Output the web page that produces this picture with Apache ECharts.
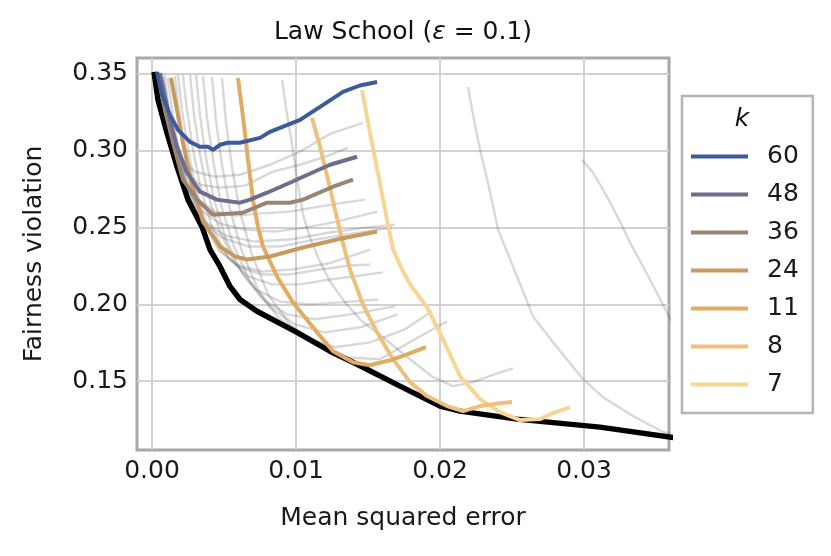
<!DOCTYPE html>
<html>
<head>
<meta charset="utf-8">
<title>Law School</title>
<script src="https://cdn.jsdelivr.net/npm/echarts@6/dist/echarts.min.js"></script>
<style>
  html, body { margin: 0; padding: 0; background: #fff; }
  #chart { width: 831px; height: 556px; }
</style>
</head>
<body>
<div id="chart"></div>
<script>
// ---- data (x = mean squared error, y = fairness violation) ----
const kNames = ['60', '48', '36', '24', '11', '8', '7'];
const kColors = ['#3d5b9a', '#6b6e8c', '#9b8473', '#c99a5f', '#e2ab62', '#edc17d', '#f6d692'];

const k60 = [[0.00035,0.3513],[0.00069,0.3364],[0.00125,0.3234],[0.00181,0.3136],[0.00264,0.3058],[0.00333,0.3026],[0.00389,0.3026],[0.00424,0.3006],[0.00472,0.3039],[0.00528,0.3052],[0.00611,0.3052],[0.0075,0.3084],[0.00819,0.3123],[0.01028,0.3201],[0.01167,0.3286],[0.01326,0.3383],[0.01444,0.3425],[0.01563,0.3448]];
const k48 = [[0.00056,0.3506],[0.00125,0.3201],[0.00174,0.3026],[0.00243,0.2857],[0.00333,0.2734],[0.00451,0.2682],[0.00611,0.2662],[0.00681,0.2682],[0.00799,0.2727],[0.00958,0.2792],[0.01049,0.2831],[0.01236,0.2909],[0.01424,0.2961]];
const k36 = [[0.00042,0.3506],[0.0009,0.3266],[0.00146,0.3052],[0.00215,0.2812],[0.00313,0.2682],[0.00424,0.2584],[0.00632,0.2597],[0.00799,0.2662],[0.00958,0.2662],[0.01049,0.2682],[0.01257,0.2766],[0.01396,0.2812]];
const k24 = [[0.00132,0.3474],[0.00174,0.3266],[0.00215,0.3052],[0.00278,0.2779],[0.00354,0.2539],[0.00472,0.2377],[0.00576,0.2312],[0.0066,0.2292],[0.00819,0.2312],[0.01049,0.237],[0.01285,0.2422],[0.01563,0.2474]];
const k11 = [[0.00597,0.3474],[0.00632,0.3221],[0.00667,0.2942],[0.00701,0.2682],[0.00736,0.2506],[0.00771,0.2377],[0.00868,0.2182],[0.00979,0.2013],[0.01146,0.1818],[0.01257,0.1695],[0.01396,0.1623],[0.01514,0.1604],[0.01653,0.1636],[0.01771,0.1675],[0.01903,0.1721]];
const k8 = [[0.01111,0.3214],[0.01167,0.3026],[0.01222,0.2812],[0.01271,0.2617],[0.01319,0.2422],[0.01375,0.2227],[0.01465,0.2],[0.01563,0.1818],[0.01674,0.1643],[0.01792,0.1494],[0.0191,0.1403],[0.02049,0.1338],[0.0216,0.1305],[0.02278,0.1338],[0.02417,0.1357],[0.025,0.1364]];
const k7 = [[0.01458,0.3396],[0.01514,0.3117],[0.01569,0.2857],[0.01618,0.2617],[0.01674,0.2357],[0.01736,0.2227],[0.01792,0.213],[0.0191,0.1981],[0.02021,0.1773],[0.02139,0.1532],[0.02278,0.1383],[0.02417,0.1299],[0.02556,0.1247],[0.02694,0.1253],[0.02785,0.1292],[0.02903,0.1331]];
const kSeries = [k60, k48, k36, k24, k11, k8, k7];

const frontier = [[0.00014,0.3513],[0.00042,0.3331],[0.00104,0.3117],[0.00174,0.2896],[0.0025,0.2682],[0.00347,0.2506],[0.00403,0.2357],[0.00472,0.2247],[0.00542,0.2117],[0.00611,0.2032],[0.00729,0.1955],[0.01007,0.1818],[0.01236,0.1695],[0.01424,0.161],[0.01722,0.1468],[0.02,0.1338],[0.02139,0.1305],[0.02535,0.1253],[0.03111,0.1201],[0.0362,0.1133]];

// other k values, drawn faint
const greyCurves = [
  [[0.00042,0.3506],[0.00076,0.3299],[0.00125,0.3104],[0.00194,0.2955],[0.00299,0.2864],[0.00438,0.2831],[0.00611,0.2844],[0.00819,0.2909],[0.01028,0.2994],[0.01236,0.311],[0.01465,0.3182]],
  [[0.00042,0.3506],[0.0009,0.3253],[0.00146,0.3039],[0.00229,0.2864],[0.00333,0.2779],[0.00472,0.276],[0.00646,0.2773],[0.0084,0.2864],[0.01028,0.2909],[0.01201,0.2961],[0.01361,0.3019]],
  [[0.0009,0.3494],[0.00118,0.3253],[0.00167,0.3039],[0.00236,0.2825],[0.00326,0.2682],[0.00438,0.2604],[0.00576,0.2578],[0.0075,0.2591],[0.00958,0.2604],[0.01201,0.2643],[0.01479,0.2682]],
  [[0.00056,0.3506],[0.00097,0.3234],[0.0016,0.3006],[0.00236,0.2779],[0.00333,0.2617],[0.00472,0.2526],[0.00646,0.2487],[0.00854,0.2474],[0.01063,0.25],[0.01285,0.2539],[0.01563,0.2604]],
  [[0.00076,0.3487],[0.00125,0.3201],[0.00181,0.2942],[0.00264,0.2714],[0.00368,0.2539],[0.00507,0.2448],[0.00715,0.2409],[0.00958,0.2422],[0.01236,0.2468],[0.01479,0.25],[0.01688,0.2519]],
  [[0.00111,0.3474],[0.00146,0.3221],[0.00194,0.2955],[0.00264,0.2714],[0.00361,0.2539],[0.00486,0.2435],[0.00667,0.2377],[0.00889,0.2377],[0.01132,0.2422],[0.01389,0.2461],[0.01667,0.25]],
  [[0.0016,0.3487],[0.00188,0.3253],[0.00229,0.3],[0.00285,0.2747],[0.00361,0.2526],[0.00465,0.2351],[0.00597,0.2253],[0.00764,0.2214],[0.00972,0.2227],[0.01222,0.2266],[0.01514,0.2357]],
  [[0.00181,0.3494],[0.00208,0.3266],[0.0025,0.3006],[0.00306,0.2747],[0.00382,0.2519],[0.00486,0.2344],[0.00611,0.224],[0.00764,0.2195],[0.00958,0.2195],[0.01167,0.2227],[0.01375,0.2253],[0.01514,0.226]],
  [[0.00215,0.3494],[0.00243,0.3266],[0.00285,0.3006],[0.0034,0.2747],[0.00417,0.25],[0.00528,0.2305],[0.00667,0.2182],[0.00833,0.213],[0.01028,0.213],[0.01236,0.2162],[0.01444,0.2188],[0.01604,0.2208]],
  [[0.00264,0.3494],[0.00292,0.3234],[0.00333,0.2974],[0.00389,0.2714],[0.00472,0.2474],[0.00583,0.226],[0.00722,0.2097],[0.00889,0.2019],[0.01097,0.2],[0.01306,0.2013],[0.01569,0.2032]],
  [[0.00306,0.3494],[0.00333,0.3234],[0.00375,0.2955],[0.00431,0.2682],[0.00514,0.2422],[0.00632,0.2195],[0.00771,0.2032],[0.00938,0.1935],[0.01132,0.1903],[0.01375,0.1935],[0.01688,0.1987]],
  [[0.00354,0.3487],[0.00382,0.3214],[0.00424,0.2942],[0.00479,0.2649],[0.00563,0.239],[0.00681,0.2149],[0.00819,0.1981],[0.00993,0.187],[0.01201,0.1818],[0.01444,0.1851],[0.01708,0.1935]],
  [[0.00417,0.3481],[0.00444,0.3201],[0.00486,0.2909],[0.00542,0.2617],[0.00625,0.2344],[0.00736,0.2097],[0.00875,0.1916],[0.01063,0.1786],[0.01271,0.1721],[0.01514,0.1753],[0.01757,0.1838],[0.01944,0.1955]],
  [[0.00486,0.3474],[0.00514,0.3188],[0.00556,0.289],[0.00611,0.2604],[0.00694,0.2325],[0.00806,0.2065],[0.00958,0.187],[0.01132,0.174],[0.0134,0.1656],[0.01583,0.1643],[0.01826,0.1773],[0.02049,0.189]],
  [[0.00903,0.3461],[0.00938,0.3234],[0.00979,0.3006],[0.01014,0.2779],[0.01049,0.2584],[0.01097,0.2435],[0.01153,0.2305],[0.01236,0.2149],[0.0134,0.2013],[0.01458,0.189],[0.01604,0.1786],[0.01792,0.1643],[0.01951,0.1526],[0.0209,0.1468],[0.02229,0.1494],[0.02382,0.1546],[0.02507,0.1584]],
  [[0.02194,0.3416],[0.02236,0.3201],[0.02278,0.3006],[0.02333,0.2792],[0.02403,0.2487],[0.02507,0.2247],[0.02646,0.1922],[0.02785,0.1753],[0.02993,0.1513],[0.03132,0.1396],[0.0334,0.1273],[0.03549,0.1169],[0.03632,0.1149]],
  [[0.02986,0.2942],[0.03063,0.2857],[0.0316,0.2701],[0.0325,0.2539],[0.03319,0.2403],[0.03458,0.2162],[0.0359,0.1922],[0.03667,0.1792]]
];

const xMin = -0.00104, xMax = 0.0359;
const yMin = 0.1052, yMax = 0.3604;

// ---- chart ----
const chart = echarts.init(document.getElementById('chart'), null, { renderer: 'canvas' });
const font = 'DejaVu Sans';
const fs = 25;

let series = [];
greyCurves.forEach((c) => {
  series.push({
    type: 'line', data: c, symbol: 'none', silent: true,
    lineStyle: { color: 'rgba(90,90,90,0.24)', width: 2.4 }
  });
});
series.push({
  name: 'frontier', type: 'line', data: frontier, symbol: 'none',
  lineStyle: { color: '#000', width: 5.5 }
});
// draw k=7 first so k=60 ends on top
for (let i = kSeries.length - 1; i >= 0; i--) {
  series.push({
    name: kNames[i], type: 'line', data: kSeries[i], symbol: 'none',
    itemStyle: { color: kColors[i] },
    lineStyle: { color: kColors[i], width: 4 }
  });
}

const splitStyle = { lineStyle: { color: '#d2d2d2', width: 2 }, showMinLine: false, showMaxLine: false };

chart.setOption({
  animation: false,
  backgroundColor: '#fff',
  grid: {
    left: 137, right: 162, top: 58, bottom: 106,
    show: true, borderColor: '#a7a8ad', borderWidth: 3
  },
  xAxis: {
    type: 'value', min: xMin, max: xMax, splitNumber: 4,
    axisLine: { show: false }, axisTick: { show: false },
    splitLine: splitStyle,
    axisLabel: {
      margin: 9, color: '#1a1a1a', fontFamily: font, fontSize: fs,
      showMinLabel: false, showMaxLabel: false,
      formatter: (v) => v.toFixed(2)
    },
    name: 'Mean squared error', nameLocation: 'middle', nameGap: 56,
    nameTextStyle: { color: '#1a1a1a', fontFamily: font, fontSize: fs }
  },
  yAxis: {
    type: 'value', min: yMin, max: yMax, splitNumber: 5,
    axisLine: { show: false }, axisTick: { show: false },
    splitLine: splitStyle,
    axisLabel: {
      margin: 9, color: '#1a1a1a', fontFamily: font, fontSize: fs,
      showMinLabel: false, showMaxLabel: false,
      formatter: (v) => v.toFixed(2)
    },
    name: 'Fairness violation', nameLocation: 'middle', nameGap: 90,
    nameTextStyle: { color: '#1a1a1a', fontFamily: font, fontSize: fs }
  },
  legend: {
    data: kNames,
    orient: 'vertical', left: 682, top: 96,
    padding: [48, 14, 16, 9],
    icon: 'rect', itemWidth: 57, itemHeight: 4, itemGap: 13,
    borderColor: '#b4b5b9', borderWidth: 2.5, backgroundColor: '#fff',
    selectedMode: false,
    textStyle: { color: '#1a1a1a', fontFamily: font, fontSize: fs, padding: [0, 0, 0, 14] }
  },
  graphic: [
    {
      type: 'text', x: 403, y: 32,
      style: {
        text: 'Law School ({i|ε} = 0.1)',
        textAlign: 'center', textVerticalAlign: 'middle',
        fill: '#111', font: fs + 'px "' + font + '"',
        rich: { i: { fontStyle: 'italic', fontFamily: font, fontSize: fs, fill: '#111' } }
      }
    },
    {
      type: 'text', x: 742, y: 119, z: 100,
      style: {
        text: 'k', textAlign: 'center', textVerticalAlign: 'middle',
        fill: '#111', font: 'italic ' + fs + 'px "' + font + '"'
      }
    }
  ],
  series: series
});
</script>
</body>
</html>
